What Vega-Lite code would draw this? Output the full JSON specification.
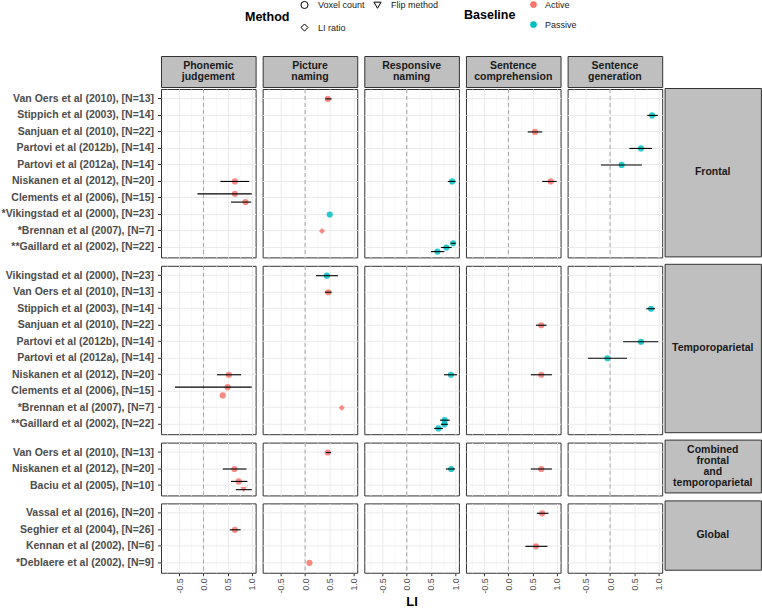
{
"$schema": "https://vega.github.io/schema/vega-lite/v6.json",
"padding": {"left": 0, "top": 0, "right": 0, "bottom": 0},
"config": {"font": "Liberation Sans", "view": {"stroke": "#333333", "strokeWidth": 1}},
"datasets": {"d": [
{"r":"F","t":"PN","s":"Van Oers et al (2010), [N=13]","li":0.47,"lo":0.42,"hi":0.55,"m":"Voxel count","b":"Active","slot":"mid"},
{"r":"F","t":"SG","s":"Stippich et al (2003), [N=14]","li":0.87,"lo":0.77,"hi":0.99,"m":"Voxel count","b":"Passive","slot":"mid"},
{"r":"F","t":"SC","s":"Sanjuan et al (2010), [N=22]","li":0.55,"lo":0.40,"hi":0.70,"m":"Voxel count","b":"Active","slot":"mid"},
{"r":"F","t":"SG","s":"Partovi et al (2012b), [N=14]","li":0.64,"lo":0.40,"hi":0.87,"m":"Voxel count","b":"Passive","slot":"mid"},
{"r":"F","t":"SG","s":"Partovi et al (2012a), [N=14]","li":0.24,"lo":-0.19,"hi":0.66,"m":"Voxel count","b":"Passive","slot":"mid"},
{"r":"F","t":"PJ","s":"Niskanen et al (2012), [N=20]","li":0.65,"lo":0.35,"hi":0.95,"m":"Voxel count","b":"Active","slot":"mid"},
{"r":"F","t":"RN","s":"Niskanen et al (2012), [N=20]","li":0.94,"lo":0.85,"hi":1.01,"m":"Voxel count","b":"Passive","slot":"mid"},
{"r":"F","t":"SC","s":"Niskanen et al (2012), [N=20]","li":0.875,"lo":0.70,"hi":1.0,"m":"Voxel count","b":"Active","slot":"mid"},
{"r":"F","t":"PJ","s":"Clements et al (2006), [N=15]","li":0.65,"lo":-0.125,"hi":1.0,"m":"Voxel count","b":"Active","slot":"up"},
{"r":"F","t":"PJ","s":"Clements et al (2006), [N=15]","li":0.87,"lo":0.57,"hi":0.99,"m":"Voxel count","b":"Active","slot":"down"},
{"r":"F","t":"PN","s":"*Vikingstad et al (2000), [N=23]","li":0.51,"lo":null,"hi":null,"m":"Voxel count","b":"Passive","slot":"mid"},
{"r":"F","t":"PN","s":"*Brennan et al (2007), [N=7]","li":0.35,"lo":null,"hi":null,"m":"LI ratio","b":"Active","slot":"mid"},
{"r":"F","t":"RN","s":"**Gaillard et al (2002), [N=22]","li":0.96,"lo":0.91,"hi":1.01,"m":"Voxel count","b":"Passive","slot":"up"},
{"r":"F","t":"RN","s":"**Gaillard et al (2002), [N=22]","li":0.82,"lo":0.71,"hi":0.93,"m":"Voxel count","b":"Passive","slot":"mid"},
{"r":"F","t":"RN","s":"**Gaillard et al (2002), [N=22]","li":0.635,"lo":0.50,"hi":0.78,"m":"Voxel count","b":"Passive","slot":"down"},
{"r":"T","t":"PN","s":"Vikingstad et al (2000), [N=23]","li":0.45,"lo":0.225,"hi":0.68,"m":"Voxel count","b":"Passive","slot":"mid"},
{"r":"T","t":"PN","s":"Van Oers et al (2010), [N=13]","li":0.48,"lo":0.41,"hi":0.55,"m":"Voxel count","b":"Active","slot":"mid"},
{"r":"T","t":"SG","s":"Stippich et al (2003), [N=14]","li":0.85,"lo":0.75,"hi":0.93,"m":"Voxel count","b":"Passive","slot":"mid"},
{"r":"T","t":"SC","s":"Sanjuan et al (2010), [N=22]","li":0.68,"lo":0.57,"hi":0.79,"m":"Voxel count","b":"Active","slot":"mid"},
{"r":"T","t":"SG","s":"Partovi et al (2012b), [N=14]","li":0.64,"lo":0.27,"hi":1.0,"m":"Voxel count","b":"Passive","slot":"mid"},
{"r":"T","t":"SG","s":"Partovi et al (2012a), [N=14]","li":-0.055,"lo":-0.46,"hi":0.35,"m":"Voxel count","b":"Passive","slot":"mid"},
{"r":"T","t":"PJ","s":"Niskanen et al (2012), [N=20]","li":0.525,"lo":0.28,"hi":0.78,"m":"Voxel count","b":"Active","slot":"mid"},
{"r":"T","t":"RN","s":"Niskanen et al (2012), [N=20]","li":0.915,"lo":0.77,"hi":1.04,"m":"Voxel count","b":"Passive","slot":"mid"},
{"r":"T","t":"SC","s":"Niskanen et al (2012), [N=20]","li":0.68,"lo":0.465,"hi":0.90,"m":"Voxel count","b":"Active","slot":"mid"},
{"r":"T","t":"PJ","s":"Clements et al (2006), [N=15]","li":0.50,"lo":-0.59,"hi":1.0,"m":"Voxel count","b":"Active","slot":"up"},
{"r":"T","t":"PJ","s":"Clements et al (2006), [N=15]","li":0.40,"lo":null,"hi":null,"m":"Voxel count","b":"Active","slot":"down"},
{"r":"T","t":"PN","s":"*Brennan et al (2007), [N=7]","li":0.76,"lo":null,"hi":null,"m":"LI ratio","b":"Active","slot":"mid"},
{"r":"T","t":"RN","s":"**Gaillard et al (2002), [N=22]","li":0.785,"lo":0.69,"hi":0.89,"m":"Voxel count","b":"Passive","slot":"up"},
{"r":"T","t":"RN","s":"**Gaillard et al (2002), [N=22]","li":0.78,"lo":0.71,"hi":0.85,"m":"Voxel count","b":"Passive","slot":"mid"},
{"r":"T","t":"RN","s":"**Gaillard et al (2002), [N=22]","li":0.655,"lo":0.57,"hi":0.75,"m":"Voxel count","b":"Passive","slot":"down"},
{"r":"C","t":"PN","s":"Van Oers et al (2010), [N=13]","li":0.47,"lo":0.43,"hi":0.54,"m":"Voxel count","b":"Active","slot":"mid"},
{"r":"C","t":"PJ","s":"Niskanen et al (2012), [N=20]","li":0.64,"lo":0.40,"hi":0.89,"m":"Voxel count","b":"Active","slot":"mid"},
{"r":"C","t":"RN","s":"Niskanen et al (2012), [N=20]","li":0.92,"lo":0.81,"hi":1.0,"m":"Voxel count","b":"Passive","slot":"mid"},
{"r":"C","t":"SC","s":"Niskanen et al (2012), [N=20]","li":0.68,"lo":0.465,"hi":0.90,"m":"Voxel count","b":"Active","slot":"mid"},
{"r":"C","t":"PJ","s":"Baciu et al (2005), [N=10]","li":0.73,"lo":0.57,"hi":0.91,"m":"Voxel count","b":"Active","slot":"up"},
{"r":"C","t":"PJ","s":"Baciu et al (2005), [N=10]","li":0.83,"lo":0.67,"hi":1.0,"m":"Flip method","b":"Active","slot":"down"},
{"r":"G","t":"SC","s":"Vassal et al (2016), [N=20]","li":0.70,"lo":0.59,"hi":0.83,"m":"Voxel count","b":"Active","slot":"mid"},
{"r":"G","t":"PJ","s":"Seghier et al (2004), [N=26]","li":0.65,"lo":0.545,"hi":0.77,"m":"Voxel count","b":"Active","slot":"mid"},
{"r":"G","t":"SC","s":"Kennan et al (2002), [N=6]","li":0.57,"lo":0.35,"hi":0.81,"m":"Voxel count","b":"Active","slot":"mid"},
{"r":"G","t":"PN","s":"*Deblaere et al (2002), [N=9]","li":0.09,"lo":null,"hi":null,"m":"Voxel count","b":"Active","slot":"mid"}
]},
"spacing": 3.65,
"hconcat": [
{"spacing": 0, "vconcat": [
 {"width": 94.6, "height": 31, "view": {"fill": "#BFBFBF", "stroke": "#333333"}, "data": {"values": [{"label": "Phonemic\njudgement"}]}, "mark": {"type": "text", "lineBreak": "\n", "fontSize": 10.5, "fontWeight": "bold", "color": "#1A1A1A", "lineHeight": 10.5, "dy": -5.25}, "encoding": {"text": {"field": "label"}}},
 {"spacing": 5.8, "vconcat": [
  {"width": 94.6, "height": 168.4, "data": {"name": "d"}, "transform": [{"filter": "datum.r == 'F' && datum.t == 'PJ'"}], "resolve": {"axis": {"x": "independent"}}, "layer": [
   {"data": {"values": [{}]}, "mark": {"type": "rule", "color": "#A6A6A6", "strokeDash": [4, 3], "strokeWidth": 1}, "encoding": {"x": {"datum": 0, "type": "quantitative", "scale": {"domain": [-0.88, 1.08], "nice": false, "zero": false}, "axis": {"orient": "bottom", "values": [-0.75, -0.25, 0.25, 0.75], "labels": false, "ticks": false, "domain": false, "title": null, "grid": true, "gridColor": "#F3F3F3", "gridWidth": 0.7}}}},
   {"mark": {"type": "point", "filled": true, "size": 38, "opacity": 0.85}, "encoding": {
     "x": {"field": "li", "type": "quantitative", "scale": {"domain": [-0.88, 1.08], "nice": false, "zero": false}, "axis": {"orient": "bottom", "values": [-0.5, 0, 0.5, 1], "labels": false, "ticks": false, "domain": false, "title": null, "grid": true, "gridColor": "#EBEBEB"}},
     "y": {"field": "s", "type": "nominal", "scale": {"type": "band", "domain": ["Van Oers et al (2010), [N=13]", "Stippich et al (2003), [N=14]", "Sanjuan et al (2010), [N=22]", "Partovi et al (2012b), [N=14]", "Partovi et al (2012a), [N=14]", "Niskanen et al (2012), [N=20]", "Clements et al (2006), [N=15]", "*Vikingstad et al (2000), [N=23]", "*Brennan et al (2007), [N=7]", "**Gaillard et al (2002), [N=22]"], "paddingInner": 0, "paddingOuter": 0.1}, "axis": {"title": null, "domain": false, "grid": true, "gridColor": "#EBEBEB", "bandPosition": 0.5, "tickSize": 3.5, "tickColor": "#333333", "labelFontSize": 10.5, "labelFontWeight": "bold", "labelColor": "#4D4D4D", "labelPadding": 4, "labelLimit": 300}},
     "yOffset": {"field": "slot", "type": "nominal", "scale": {"domain": ["up", "mid", "down"], "paddingInner": 0, "paddingOuter": 0.5}},
     "color": {"field": "b", "type": "nominal", "scale": {"domain": ["Active", "Passive"], "range": ["#F8766D", "#00BFC4"]}, "legend": {"title": "Baseline", "orient": "none", "legendX": 303, "legendY": -56, "titleOrient": "left", "titleAnchor": "middle", "titleBaseline": "middle", "titleFontSize": 12.5, "titleFontWeight": "bold", "titleColor": "black", "titlePadding": 13, "labelFontSize": 9, "labelColor": "#1A1A1A", "symbolType": "circle", "symbolSize": 45, "symbolOpacity": 1, "rowPadding": 10, "labelOffset": 7}},
     "shape": {"field": "m", "type": "nominal", "scale": {"domain": ["Voxel count", "LI ratio", "Flip method"], "range": ["circle", "diamond", "triangle-down"]}, "legend": {"title": "Method", "orient": "none", "legendX": 84, "legendY": -56, "titleOrient": "left", "titleAnchor": "middle", "titleBaseline": "middle", "titleFontSize": 12.5, "titleFontWeight": "bold", "titleColor": "black", "titlePadding": 10, "labelFontSize": 9, "labelColor": "#1A1A1A", "columns": 2, "columnPadding": 6, "rowPadding": 10, "symbolSize": 50, "symbolOpacity": 1, "symbolFillColor": "transparent", "symbolStrokeColor": "black", "symbolStrokeWidth": 1, "labelOffset": 9}}}},
   {"mark": {"type": "rule", "color": "black", "strokeWidth": 1.1}, "encoding": {"x": {"field": "lo", "type": "quantitative", "scale": {"domain": [-0.88, 1.08], "nice": false, "zero": false}, "axis": null}, "x2": {"field": "hi"}, "y": {"field": "s", "type": "nominal", "scale": {"type": "band", "domain": ["Van Oers et al (2010), [N=13]", "Stippich et al (2003), [N=14]", "Sanjuan et al (2010), [N=22]", "Partovi et al (2012b), [N=14]", "Partovi et al (2012a), [N=14]", "Niskanen et al (2012), [N=20]", "Clements et al (2006), [N=15]", "*Vikingstad et al (2000), [N=23]", "*Brennan et al (2007), [N=7]", "**Gaillard et al (2002), [N=22]"], "paddingInner": 0, "paddingOuter": 0.1}}, "yOffset": {"field": "slot", "type": "nominal", "scale": {"domain": ["up", "mid", "down"], "paddingInner": 0, "paddingOuter": 0.5}}}}
  ]},
  {"width": 94.6, "height": 168.4, "data": {"name": "d"}, "transform": [{"filter": "datum.r == 'T' && datum.t == 'PJ'"}], "resolve": {"axis": {"x": "independent"}}, "layer": [
   {"data": {"values": [{}]}, "mark": {"type": "rule", "color": "#A6A6A6", "strokeDash": [4, 3], "strokeWidth": 1}, "encoding": {"x": {"datum": 0, "type": "quantitative", "scale": {"domain": [-0.88, 1.08], "nice": false, "zero": false}, "axis": {"orient": "bottom", "values": [-0.75, -0.25, 0.25, 0.75], "labels": false, "ticks": false, "domain": false, "title": null, "grid": true, "gridColor": "#F3F3F3", "gridWidth": 0.7}}}},
   {"mark": {"type": "point", "filled": true, "size": 38, "opacity": 0.85}, "encoding": {
     "x": {"field": "li", "type": "quantitative", "scale": {"domain": [-0.88, 1.08], "nice": false, "zero": false}, "axis": {"orient": "bottom", "values": [-0.5, 0, 0.5, 1], "labels": false, "ticks": false, "domain": false, "title": null, "grid": true, "gridColor": "#EBEBEB"}},
     "y": {"field": "s", "type": "nominal", "scale": {"type": "band", "domain": ["Vikingstad et al (2000), [N=23]", "Van Oers et al (2010), [N=13]", "Stippich et al (2003), [N=14]", "Sanjuan et al (2010), [N=22]", "Partovi et al (2012b), [N=14]", "Partovi et al (2012a), [N=14]", "Niskanen et al (2012), [N=20]", "Clements et al (2006), [N=15]", "*Brennan et al (2007), [N=7]", "**Gaillard et al (2002), [N=22]"], "paddingInner": 0, "paddingOuter": 0.1}, "axis": {"title": null, "domain": false, "grid": true, "gridColor": "#EBEBEB", "bandPosition": 0.5, "tickSize": 3.5, "tickColor": "#333333", "labelFontSize": 10.5, "labelFontWeight": "bold", "labelColor": "#4D4D4D", "labelPadding": 4, "labelLimit": 300}},
     "yOffset": {"field": "slot", "type": "nominal", "scale": {"domain": ["up", "mid", "down"], "paddingInner": 0, "paddingOuter": 0.5}},
     "color": {"field": "b", "type": "nominal", "scale": {"domain": ["Active", "Passive"], "range": ["#F8766D", "#00BFC4"]}, "legend": {"symbolOpacity": 1}},
     "shape": {"field": "m", "type": "nominal", "scale": {"domain": ["Voxel count", "LI ratio", "Flip method"], "range": ["circle", "diamond", "triangle-down"]}, "legend": {"symbolOpacity": 1, "symbolFillColor": "transparent", "symbolStrokeColor": "black", "symbolStrokeWidth": 1}}}},
   {"mark": {"type": "rule", "color": "black", "strokeWidth": 1.1}, "encoding": {"x": {"field": "lo", "type": "quantitative", "scale": {"domain": [-0.88, 1.08], "nice": false, "zero": false}, "axis": null}, "x2": {"field": "hi"}, "y": {"field": "s", "type": "nominal", "scale": {"type": "band", "domain": ["Vikingstad et al (2000), [N=23]", "Van Oers et al (2010), [N=13]", "Stippich et al (2003), [N=14]", "Sanjuan et al (2010), [N=22]", "Partovi et al (2012b), [N=14]", "Partovi et al (2012a), [N=14]", "Niskanen et al (2012), [N=20]", "Clements et al (2006), [N=15]", "*Brennan et al (2007), [N=7]", "**Gaillard et al (2002), [N=22]"], "paddingInner": 0, "paddingOuter": 0.1}}, "yOffset": {"field": "slot", "type": "nominal", "scale": {"domain": ["up", "mid", "down"], "paddingInner": 0, "paddingOuter": 0.5}}}}
  ]},
  {"width": 94.6, "height": 52.83, "data": {"name": "d"}, "transform": [{"filter": "datum.r == 'C' && datum.t == 'PJ'"}], "resolve": {"axis": {"x": "independent"}}, "layer": [
   {"data": {"values": [{}]}, "mark": {"type": "rule", "color": "#A6A6A6", "strokeDash": [4, 3], "strokeWidth": 1}, "encoding": {"x": {"datum": 0, "type": "quantitative", "scale": {"domain": [-0.88, 1.08], "nice": false, "zero": false}, "axis": {"orient": "bottom", "values": [-0.75, -0.25, 0.25, 0.75], "labels": false, "ticks": false, "domain": false, "title": null, "grid": true, "gridColor": "#F3F3F3", "gridWidth": 0.7}}}},
   {"mark": {"type": "point", "filled": true, "size": 38, "opacity": 0.85}, "encoding": {
     "x": {"field": "li", "type": "quantitative", "scale": {"domain": [-0.88, 1.08], "nice": false, "zero": false}, "axis": {"orient": "bottom", "values": [-0.5, 0, 0.5, 1], "labels": false, "ticks": false, "domain": false, "title": null, "grid": true, "gridColor": "#EBEBEB"}},
     "y": {"field": "s", "type": "nominal", "scale": {"type": "band", "domain": ["Van Oers et al (2010), [N=13]", "Niskanen et al (2012), [N=20]", "Baciu et al (2005), [N=10]"], "paddingInner": 0, "paddingOuter": 0.1}, "axis": {"title": null, "domain": false, "grid": true, "gridColor": "#EBEBEB", "bandPosition": 0.5, "tickSize": 3.5, "tickColor": "#333333", "labelFontSize": 10.5, "labelFontWeight": "bold", "labelColor": "#4D4D4D", "labelPadding": 4, "labelLimit": 300}},
     "yOffset": {"field": "slot", "type": "nominal", "scale": {"domain": ["up", "mid", "down"], "paddingInner": 0, "paddingOuter": 0.5}},
     "color": {"field": "b", "type": "nominal", "scale": {"domain": ["Active", "Passive"], "range": ["#F8766D", "#00BFC4"]}, "legend": {"symbolOpacity": 1}},
     "shape": {"field": "m", "type": "nominal", "scale": {"domain": ["Voxel count", "LI ratio", "Flip method"], "range": ["circle", "diamond", "triangle-down"]}, "legend": {"symbolOpacity": 1, "symbolFillColor": "transparent", "symbolStrokeColor": "black", "symbolStrokeWidth": 1}}}},
   {"mark": {"type": "rule", "color": "black", "strokeWidth": 1.1}, "encoding": {"x": {"field": "lo", "type": "quantitative", "scale": {"domain": [-0.88, 1.08], "nice": false, "zero": false}, "axis": null}, "x2": {"field": "hi"}, "y": {"field": "s", "type": "nominal", "scale": {"type": "band", "domain": ["Van Oers et al (2010), [N=13]", "Niskanen et al (2012), [N=20]", "Baciu et al (2005), [N=10]"], "paddingInner": 0, "paddingOuter": 0.1}}, "yOffset": {"field": "slot", "type": "nominal", "scale": {"domain": ["up", "mid", "down"], "paddingInner": 0, "paddingOuter": 0.5}}}}
  ]},
  {"width": 94.6, "height": 69.34, "data": {"name": "d"}, "transform": [{"filter": "datum.r == 'G' && datum.t == 'PJ'"}], "resolve": {"axis": {"x": "independent"}}, "layer": [
   {"data": {"values": [{}]}, "mark": {"type": "rule", "color": "#A6A6A6", "strokeDash": [4, 3], "strokeWidth": 1}, "encoding": {"x": {"datum": 0, "type": "quantitative", "scale": {"domain": [-0.88, 1.08], "nice": false, "zero": false}, "axis": {"orient": "bottom", "values": [-0.75, -0.25, 0.25, 0.75], "labels": false, "ticks": false, "domain": false, "title": null, "grid": true, "gridColor": "#F3F3F3", "gridWidth": 0.7}}}},
   {"mark": {"type": "point", "filled": true, "size": 38, "opacity": 0.85}, "encoding": {
     "x": {"field": "li", "type": "quantitative", "scale": {"domain": [-0.88, 1.08], "nice": false, "zero": false}, "axis": {"orient": "bottom", "values": [-0.5, 0, 0.5, 1], "domain": false, "title": null, "grid": true, "gridColor": "#EBEBEB", "labelExpr": "datum.value < 0 ? '-0.5' : format(datum.value, '.1f')", "labelAngle": -90, "labelFontSize": 8.8, "labelColor": "#4D4D4D", "labelFlush": false, "labelOverlap": false, "labelPadding": 2, "tickSize": 3, "tickColor": "#333333"}},
     "y": {"field": "s", "type": "nominal", "scale": {"type": "band", "domain": ["Vassal et al (2016), [N=20]", "Seghier et al (2004), [N=26]", "Kennan et al (2002), [N=6]", "*Deblaere et al (2002), [N=9]"], "paddingInner": 0, "paddingOuter": 0.1}, "axis": {"title": null, "domain": false, "grid": true, "gridColor": "#EBEBEB", "bandPosition": 0.5, "tickSize": 3.5, "tickColor": "#333333", "labelFontSize": 10.5, "labelFontWeight": "bold", "labelColor": "#4D4D4D", "labelPadding": 4, "labelLimit": 300}},
     "yOffset": {"field": "slot", "type": "nominal", "scale": {"domain": ["up", "mid", "down"], "paddingInner": 0, "paddingOuter": 0.5}},
     "color": {"field": "b", "type": "nominal", "scale": {"domain": ["Active", "Passive"], "range": ["#F8766D", "#00BFC4"]}, "legend": {"symbolOpacity": 1}},
     "shape": {"field": "m", "type": "nominal", "scale": {"domain": ["Voxel count", "LI ratio", "Flip method"], "range": ["circle", "diamond", "triangle-down"]}, "legend": {"symbolOpacity": 1, "symbolFillColor": "transparent", "symbolStrokeColor": "black", "symbolStrokeWidth": 1}}}},
   {"mark": {"type": "rule", "color": "black", "strokeWidth": 1.1}, "encoding": {"x": {"field": "lo", "type": "quantitative", "scale": {"domain": [-0.88, 1.08], "nice": false, "zero": false}, "axis": null}, "x2": {"field": "hi"}, "y": {"field": "s", "type": "nominal", "scale": {"type": "band", "domain": ["Vassal et al (2016), [N=20]", "Seghier et al (2004), [N=26]", "Kennan et al (2002), [N=6]", "*Deblaere et al (2002), [N=9]"], "paddingInner": 0, "paddingOuter": 0.1}}, "yOffset": {"field": "slot", "type": "nominal", "scale": {"domain": ["up", "mid", "down"], "paddingInner": 0, "paddingOuter": 0.5}}}}
  ]}
 ]}
]},
{"spacing": 0, "vconcat": [
 {"width": 94.6, "height": 31, "view": {"fill": "#BFBFBF", "stroke": "#333333"}, "data": {"values": [{"label": "Picture\nnaming"}]}, "mark": {"type": "text", "lineBreak": "\n", "fontSize": 10.5, "fontWeight": "bold", "color": "#1A1A1A", "lineHeight": 10.5, "dy": -5.25}, "encoding": {"text": {"field": "label"}}},
 {"spacing": 5.8, "vconcat": [
  {"width": 94.6, "height": 168.4, "data": {"name": "d"}, "transform": [{"filter": "datum.r == 'F' && datum.t == 'PN'"}], "resolve": {"axis": {"x": "independent"}}, "layer": [
   {"data": {"values": [{}]}, "mark": {"type": "rule", "color": "#A6A6A6", "strokeDash": [4, 3], "strokeWidth": 1}, "encoding": {"x": {"datum": 0, "type": "quantitative", "scale": {"domain": [-0.88, 1.08], "nice": false, "zero": false}, "axis": {"orient": "bottom", "values": [-0.75, -0.25, 0.25, 0.75], "labels": false, "ticks": false, "domain": false, "title": null, "grid": true, "gridColor": "#F3F3F3", "gridWidth": 0.7}}}},
   {"mark": {"type": "point", "filled": true, "size": 38, "opacity": 0.85}, "encoding": {
     "x": {"field": "li", "type": "quantitative", "scale": {"domain": [-0.88, 1.08], "nice": false, "zero": false}, "axis": {"orient": "bottom", "values": [-0.5, 0, 0.5, 1], "labels": false, "ticks": false, "domain": false, "title": null, "grid": true, "gridColor": "#EBEBEB"}},
     "y": {"field": "s", "type": "nominal", "scale": {"type": "band", "domain": ["Van Oers et al (2010), [N=13]", "Stippich et al (2003), [N=14]", "Sanjuan et al (2010), [N=22]", "Partovi et al (2012b), [N=14]", "Partovi et al (2012a), [N=14]", "Niskanen et al (2012), [N=20]", "Clements et al (2006), [N=15]", "*Vikingstad et al (2000), [N=23]", "*Brennan et al (2007), [N=7]", "**Gaillard et al (2002), [N=22]"], "paddingInner": 0, "paddingOuter": 0.1}, "axis": {"title": null, "domain": false, "grid": true, "gridColor": "#EBEBEB", "bandPosition": 0.5, "labels": false, "ticks": false}},
     "yOffset": {"field": "slot", "type": "nominal", "scale": {"domain": ["up", "mid", "down"], "paddingInner": 0, "paddingOuter": 0.5}},
     "color": {"field": "b", "type": "nominal", "scale": {"domain": ["Active", "Passive"], "range": ["#F8766D", "#00BFC4"]}, "legend": {"symbolOpacity": 1}},
     "shape": {"field": "m", "type": "nominal", "scale": {"domain": ["Voxel count", "LI ratio", "Flip method"], "range": ["circle", "diamond", "triangle-down"]}, "legend": {"symbolOpacity": 1, "symbolFillColor": "transparent", "symbolStrokeColor": "black", "symbolStrokeWidth": 1}}}},
   {"mark": {"type": "rule", "color": "black", "strokeWidth": 1.1}, "encoding": {"x": {"field": "lo", "type": "quantitative", "scale": {"domain": [-0.88, 1.08], "nice": false, "zero": false}, "axis": null}, "x2": {"field": "hi"}, "y": {"field": "s", "type": "nominal", "scale": {"type": "band", "domain": ["Van Oers et al (2010), [N=13]", "Stippich et al (2003), [N=14]", "Sanjuan et al (2010), [N=22]", "Partovi et al (2012b), [N=14]", "Partovi et al (2012a), [N=14]", "Niskanen et al (2012), [N=20]", "Clements et al (2006), [N=15]", "*Vikingstad et al (2000), [N=23]", "*Brennan et al (2007), [N=7]", "**Gaillard et al (2002), [N=22]"], "paddingInner": 0, "paddingOuter": 0.1}}, "yOffset": {"field": "slot", "type": "nominal", "scale": {"domain": ["up", "mid", "down"], "paddingInner": 0, "paddingOuter": 0.5}}}}
  ]},
  {"width": 94.6, "height": 168.4, "data": {"name": "d"}, "transform": [{"filter": "datum.r == 'T' && datum.t == 'PN'"}], "resolve": {"axis": {"x": "independent"}}, "layer": [
   {"data": {"values": [{}]}, "mark": {"type": "rule", "color": "#A6A6A6", "strokeDash": [4, 3], "strokeWidth": 1}, "encoding": {"x": {"datum": 0, "type": "quantitative", "scale": {"domain": [-0.88, 1.08], "nice": false, "zero": false}, "axis": {"orient": "bottom", "values": [-0.75, -0.25, 0.25, 0.75], "labels": false, "ticks": false, "domain": false, "title": null, "grid": true, "gridColor": "#F3F3F3", "gridWidth": 0.7}}}},
   {"mark": {"type": "point", "filled": true, "size": 38, "opacity": 0.85}, "encoding": {
     "x": {"field": "li", "type": "quantitative", "scale": {"domain": [-0.88, 1.08], "nice": false, "zero": false}, "axis": {"orient": "bottom", "values": [-0.5, 0, 0.5, 1], "labels": false, "ticks": false, "domain": false, "title": null, "grid": true, "gridColor": "#EBEBEB"}},
     "y": {"field": "s", "type": "nominal", "scale": {"type": "band", "domain": ["Vikingstad et al (2000), [N=23]", "Van Oers et al (2010), [N=13]", "Stippich et al (2003), [N=14]", "Sanjuan et al (2010), [N=22]", "Partovi et al (2012b), [N=14]", "Partovi et al (2012a), [N=14]", "Niskanen et al (2012), [N=20]", "Clements et al (2006), [N=15]", "*Brennan et al (2007), [N=7]", "**Gaillard et al (2002), [N=22]"], "paddingInner": 0, "paddingOuter": 0.1}, "axis": {"title": null, "domain": false, "grid": true, "gridColor": "#EBEBEB", "bandPosition": 0.5, "labels": false, "ticks": false}},
     "yOffset": {"field": "slot", "type": "nominal", "scale": {"domain": ["up", "mid", "down"], "paddingInner": 0, "paddingOuter": 0.5}},
     "color": {"field": "b", "type": "nominal", "scale": {"domain": ["Active", "Passive"], "range": ["#F8766D", "#00BFC4"]}, "legend": {"symbolOpacity": 1}},
     "shape": {"field": "m", "type": "nominal", "scale": {"domain": ["Voxel count", "LI ratio", "Flip method"], "range": ["circle", "diamond", "triangle-down"]}, "legend": {"symbolOpacity": 1, "symbolFillColor": "transparent", "symbolStrokeColor": "black", "symbolStrokeWidth": 1}}}},
   {"mark": {"type": "rule", "color": "black", "strokeWidth": 1.1}, "encoding": {"x": {"field": "lo", "type": "quantitative", "scale": {"domain": [-0.88, 1.08], "nice": false, "zero": false}, "axis": null}, "x2": {"field": "hi"}, "y": {"field": "s", "type": "nominal", "scale": {"type": "band", "domain": ["Vikingstad et al (2000), [N=23]", "Van Oers et al (2010), [N=13]", "Stippich et al (2003), [N=14]", "Sanjuan et al (2010), [N=22]", "Partovi et al (2012b), [N=14]", "Partovi et al (2012a), [N=14]", "Niskanen et al (2012), [N=20]", "Clements et al (2006), [N=15]", "*Brennan et al (2007), [N=7]", "**Gaillard et al (2002), [N=22]"], "paddingInner": 0, "paddingOuter": 0.1}}, "yOffset": {"field": "slot", "type": "nominal", "scale": {"domain": ["up", "mid", "down"], "paddingInner": 0, "paddingOuter": 0.5}}}}
  ]},
  {"width": 94.6, "height": 52.83, "data": {"name": "d"}, "transform": [{"filter": "datum.r == 'C' && datum.t == 'PN'"}], "resolve": {"axis": {"x": "independent"}}, "layer": [
   {"data": {"values": [{}]}, "mark": {"type": "rule", "color": "#A6A6A6", "strokeDash": [4, 3], "strokeWidth": 1}, "encoding": {"x": {"datum": 0, "type": "quantitative", "scale": {"domain": [-0.88, 1.08], "nice": false, "zero": false}, "axis": {"orient": "bottom", "values": [-0.75, -0.25, 0.25, 0.75], "labels": false, "ticks": false, "domain": false, "title": null, "grid": true, "gridColor": "#F3F3F3", "gridWidth": 0.7}}}},
   {"mark": {"type": "point", "filled": true, "size": 38, "opacity": 0.85}, "encoding": {
     "x": {"field": "li", "type": "quantitative", "scale": {"domain": [-0.88, 1.08], "nice": false, "zero": false}, "axis": {"orient": "bottom", "values": [-0.5, 0, 0.5, 1], "labels": false, "ticks": false, "domain": false, "title": null, "grid": true, "gridColor": "#EBEBEB"}},
     "y": {"field": "s", "type": "nominal", "scale": {"type": "band", "domain": ["Van Oers et al (2010), [N=13]", "Niskanen et al (2012), [N=20]", "Baciu et al (2005), [N=10]"], "paddingInner": 0, "paddingOuter": 0.1}, "axis": {"title": null, "domain": false, "grid": true, "gridColor": "#EBEBEB", "bandPosition": 0.5, "labels": false, "ticks": false}},
     "yOffset": {"field": "slot", "type": "nominal", "scale": {"domain": ["up", "mid", "down"], "paddingInner": 0, "paddingOuter": 0.5}},
     "color": {"field": "b", "type": "nominal", "scale": {"domain": ["Active", "Passive"], "range": ["#F8766D", "#00BFC4"]}, "legend": {"symbolOpacity": 1}},
     "shape": {"field": "m", "type": "nominal", "scale": {"domain": ["Voxel count", "LI ratio", "Flip method"], "range": ["circle", "diamond", "triangle-down"]}, "legend": {"symbolOpacity": 1, "symbolFillColor": "transparent", "symbolStrokeColor": "black", "symbolStrokeWidth": 1}}}},
   {"mark": {"type": "rule", "color": "black", "strokeWidth": 1.1}, "encoding": {"x": {"field": "lo", "type": "quantitative", "scale": {"domain": [-0.88, 1.08], "nice": false, "zero": false}, "axis": null}, "x2": {"field": "hi"}, "y": {"field": "s", "type": "nominal", "scale": {"type": "band", "domain": ["Van Oers et al (2010), [N=13]", "Niskanen et al (2012), [N=20]", "Baciu et al (2005), [N=10]"], "paddingInner": 0, "paddingOuter": 0.1}}, "yOffset": {"field": "slot", "type": "nominal", "scale": {"domain": ["up", "mid", "down"], "paddingInner": 0, "paddingOuter": 0.5}}}}
  ]},
  {"width": 94.6, "height": 69.34, "data": {"name": "d"}, "transform": [{"filter": "datum.r == 'G' && datum.t == 'PN'"}], "resolve": {"axis": {"x": "independent"}}, "layer": [
   {"data": {"values": [{}]}, "mark": {"type": "rule", "color": "#A6A6A6", "strokeDash": [4, 3], "strokeWidth": 1}, "encoding": {"x": {"datum": 0, "type": "quantitative", "scale": {"domain": [-0.88, 1.08], "nice": false, "zero": false}, "axis": {"orient": "bottom", "values": [-0.75, -0.25, 0.25, 0.75], "labels": false, "ticks": false, "domain": false, "title": null, "grid": true, "gridColor": "#F3F3F3", "gridWidth": 0.7}}}},
   {"mark": {"type": "point", "filled": true, "size": 38, "opacity": 0.85}, "encoding": {
     "x": {"field": "li", "type": "quantitative", "scale": {"domain": [-0.88, 1.08], "nice": false, "zero": false}, "axis": {"orient": "bottom", "values": [-0.5, 0, 0.5, 1], "domain": false, "title": null, "grid": true, "gridColor": "#EBEBEB", "labelExpr": "datum.value < 0 ? '-0.5' : format(datum.value, '.1f')", "labelAngle": -90, "labelFontSize": 8.8, "labelColor": "#4D4D4D", "labelFlush": false, "labelOverlap": false, "labelPadding": 2, "tickSize": 3, "tickColor": "#333333"}},
     "y": {"field": "s", "type": "nominal", "scale": {"type": "band", "domain": ["Vassal et al (2016), [N=20]", "Seghier et al (2004), [N=26]", "Kennan et al (2002), [N=6]", "*Deblaere et al (2002), [N=9]"], "paddingInner": 0, "paddingOuter": 0.1}, "axis": {"title": null, "domain": false, "grid": true, "gridColor": "#EBEBEB", "bandPosition": 0.5, "labels": false, "ticks": false}},
     "yOffset": {"field": "slot", "type": "nominal", "scale": {"domain": ["up", "mid", "down"], "paddingInner": 0, "paddingOuter": 0.5}},
     "color": {"field": "b", "type": "nominal", "scale": {"domain": ["Active", "Passive"], "range": ["#F8766D", "#00BFC4"]}, "legend": {"symbolOpacity": 1}},
     "shape": {"field": "m", "type": "nominal", "scale": {"domain": ["Voxel count", "LI ratio", "Flip method"], "range": ["circle", "diamond", "triangle-down"]}, "legend": {"symbolOpacity": 1, "symbolFillColor": "transparent", "symbolStrokeColor": "black", "symbolStrokeWidth": 1}}}},
   {"mark": {"type": "rule", "color": "black", "strokeWidth": 1.1}, "encoding": {"x": {"field": "lo", "type": "quantitative", "scale": {"domain": [-0.88, 1.08], "nice": false, "zero": false}, "axis": null}, "x2": {"field": "hi"}, "y": {"field": "s", "type": "nominal", "scale": {"type": "band", "domain": ["Vassal et al (2016), [N=20]", "Seghier et al (2004), [N=26]", "Kennan et al (2002), [N=6]", "*Deblaere et al (2002), [N=9]"], "paddingInner": 0, "paddingOuter": 0.1}}, "yOffset": {"field": "slot", "type": "nominal", "scale": {"domain": ["up", "mid", "down"], "paddingInner": 0, "paddingOuter": 0.5}}}}
  ]}
 ]}
]},
{"spacing": 0, "vconcat": [
 {"width": 94.6, "height": 31, "view": {"fill": "#BFBFBF", "stroke": "#333333"}, "data": {"values": [{"label": "Responsive\nnaming"}]}, "mark": {"type": "text", "lineBreak": "\n", "fontSize": 10.5, "fontWeight": "bold", "color": "#1A1A1A", "lineHeight": 10.5, "dy": -5.25}, "encoding": {"text": {"field": "label"}}},
 {"spacing": 5.8, "vconcat": [
  {"width": 94.6, "height": 168.4, "data": {"name": "d"}, "transform": [{"filter": "datum.r == 'F' && datum.t == 'RN'"}], "resolve": {"axis": {"x": "independent"}}, "layer": [
   {"data": {"values": [{}]}, "mark": {"type": "rule", "color": "#A6A6A6", "strokeDash": [4, 3], "strokeWidth": 1}, "encoding": {"x": {"datum": 0, "type": "quantitative", "scale": {"domain": [-0.88, 1.08], "nice": false, "zero": false}, "axis": {"orient": "bottom", "values": [-0.75, -0.25, 0.25, 0.75], "labels": false, "ticks": false, "domain": false, "title": null, "grid": true, "gridColor": "#F3F3F3", "gridWidth": 0.7}}}},
   {"mark": {"type": "point", "filled": true, "size": 38, "opacity": 0.85}, "encoding": {
     "x": {"field": "li", "type": "quantitative", "scale": {"domain": [-0.88, 1.08], "nice": false, "zero": false}, "axis": {"orient": "bottom", "values": [-0.5, 0, 0.5, 1], "labels": false, "ticks": false, "domain": false, "title": null, "grid": true, "gridColor": "#EBEBEB"}},
     "y": {"field": "s", "type": "nominal", "scale": {"type": "band", "domain": ["Van Oers et al (2010), [N=13]", "Stippich et al (2003), [N=14]", "Sanjuan et al (2010), [N=22]", "Partovi et al (2012b), [N=14]", "Partovi et al (2012a), [N=14]", "Niskanen et al (2012), [N=20]", "Clements et al (2006), [N=15]", "*Vikingstad et al (2000), [N=23]", "*Brennan et al (2007), [N=7]", "**Gaillard et al (2002), [N=22]"], "paddingInner": 0, "paddingOuter": 0.1}, "axis": {"title": null, "domain": false, "grid": true, "gridColor": "#EBEBEB", "bandPosition": 0.5, "labels": false, "ticks": false}},
     "yOffset": {"field": "slot", "type": "nominal", "scale": {"domain": ["up", "mid", "down"], "paddingInner": 0, "paddingOuter": 0}},
     "color": {"field": "b", "type": "nominal", "scale": {"domain": ["Active", "Passive"], "range": ["#F8766D", "#00BFC4"]}, "legend": {"symbolOpacity": 1}},
     "shape": {"field": "m", "type": "nominal", "scale": {"domain": ["Voxel count", "LI ratio", "Flip method"], "range": ["circle", "diamond", "triangle-down"]}, "legend": {"symbolOpacity": 1, "symbolFillColor": "transparent", "symbolStrokeColor": "black", "symbolStrokeWidth": 1}}}},
   {"mark": {"type": "rule", "color": "black", "strokeWidth": 1.1}, "encoding": {"x": {"field": "lo", "type": "quantitative", "scale": {"domain": [-0.88, 1.08], "nice": false, "zero": false}, "axis": null}, "x2": {"field": "hi"}, "y": {"field": "s", "type": "nominal", "scale": {"type": "band", "domain": ["Van Oers et al (2010), [N=13]", "Stippich et al (2003), [N=14]", "Sanjuan et al (2010), [N=22]", "Partovi et al (2012b), [N=14]", "Partovi et al (2012a), [N=14]", "Niskanen et al (2012), [N=20]", "Clements et al (2006), [N=15]", "*Vikingstad et al (2000), [N=23]", "*Brennan et al (2007), [N=7]", "**Gaillard et al (2002), [N=22]"], "paddingInner": 0, "paddingOuter": 0.1}}, "yOffset": {"field": "slot", "type": "nominal", "scale": {"domain": ["up", "mid", "down"], "paddingInner": 0, "paddingOuter": 0}}}}
  ]},
  {"width": 94.6, "height": 168.4, "data": {"name": "d"}, "transform": [{"filter": "datum.r == 'T' && datum.t == 'RN'"}], "resolve": {"axis": {"x": "independent"}}, "layer": [
   {"data": {"values": [{}]}, "mark": {"type": "rule", "color": "#A6A6A6", "strokeDash": [4, 3], "strokeWidth": 1}, "encoding": {"x": {"datum": 0, "type": "quantitative", "scale": {"domain": [-0.88, 1.08], "nice": false, "zero": false}, "axis": {"orient": "bottom", "values": [-0.75, -0.25, 0.25, 0.75], "labels": false, "ticks": false, "domain": false, "title": null, "grid": true, "gridColor": "#F3F3F3", "gridWidth": 0.7}}}},
   {"mark": {"type": "point", "filled": true, "size": 38, "opacity": 0.85}, "encoding": {
     "x": {"field": "li", "type": "quantitative", "scale": {"domain": [-0.88, 1.08], "nice": false, "zero": false}, "axis": {"orient": "bottom", "values": [-0.5, 0, 0.5, 1], "labels": false, "ticks": false, "domain": false, "title": null, "grid": true, "gridColor": "#EBEBEB"}},
     "y": {"field": "s", "type": "nominal", "scale": {"type": "band", "domain": ["Vikingstad et al (2000), [N=23]", "Van Oers et al (2010), [N=13]", "Stippich et al (2003), [N=14]", "Sanjuan et al (2010), [N=22]", "Partovi et al (2012b), [N=14]", "Partovi et al (2012a), [N=14]", "Niskanen et al (2012), [N=20]", "Clements et al (2006), [N=15]", "*Brennan et al (2007), [N=7]", "**Gaillard et al (2002), [N=22]"], "paddingInner": 0, "paddingOuter": 0.1}, "axis": {"title": null, "domain": false, "grid": true, "gridColor": "#EBEBEB", "bandPosition": 0.5, "labels": false, "ticks": false}},
     "yOffset": {"field": "slot", "type": "nominal", "scale": {"domain": ["up", "mid", "down"], "paddingInner": 0, "paddingOuter": 0}},
     "color": {"field": "b", "type": "nominal", "scale": {"domain": ["Active", "Passive"], "range": ["#F8766D", "#00BFC4"]}, "legend": {"symbolOpacity": 1}},
     "shape": {"field": "m", "type": "nominal", "scale": {"domain": ["Voxel count", "LI ratio", "Flip method"], "range": ["circle", "diamond", "triangle-down"]}, "legend": {"symbolOpacity": 1, "symbolFillColor": "transparent", "symbolStrokeColor": "black", "symbolStrokeWidth": 1}}}},
   {"mark": {"type": "rule", "color": "black", "strokeWidth": 1.1}, "encoding": {"x": {"field": "lo", "type": "quantitative", "scale": {"domain": [-0.88, 1.08], "nice": false, "zero": false}, "axis": null}, "x2": {"field": "hi"}, "y": {"field": "s", "type": "nominal", "scale": {"type": "band", "domain": ["Vikingstad et al (2000), [N=23]", "Van Oers et al (2010), [N=13]", "Stippich et al (2003), [N=14]", "Sanjuan et al (2010), [N=22]", "Partovi et al (2012b), [N=14]", "Partovi et al (2012a), [N=14]", "Niskanen et al (2012), [N=20]", "Clements et al (2006), [N=15]", "*Brennan et al (2007), [N=7]", "**Gaillard et al (2002), [N=22]"], "paddingInner": 0, "paddingOuter": 0.1}}, "yOffset": {"field": "slot", "type": "nominal", "scale": {"domain": ["up", "mid", "down"], "paddingInner": 0, "paddingOuter": 0}}}}
  ]},
  {"width": 94.6, "height": 52.83, "data": {"name": "d"}, "transform": [{"filter": "datum.r == 'C' && datum.t == 'RN'"}], "resolve": {"axis": {"x": "independent"}}, "layer": [
   {"data": {"values": [{}]}, "mark": {"type": "rule", "color": "#A6A6A6", "strokeDash": [4, 3], "strokeWidth": 1}, "encoding": {"x": {"datum": 0, "type": "quantitative", "scale": {"domain": [-0.88, 1.08], "nice": false, "zero": false}, "axis": {"orient": "bottom", "values": [-0.75, -0.25, 0.25, 0.75], "labels": false, "ticks": false, "domain": false, "title": null, "grid": true, "gridColor": "#F3F3F3", "gridWidth": 0.7}}}},
   {"mark": {"type": "point", "filled": true, "size": 38, "opacity": 0.85}, "encoding": {
     "x": {"field": "li", "type": "quantitative", "scale": {"domain": [-0.88, 1.08], "nice": false, "zero": false}, "axis": {"orient": "bottom", "values": [-0.5, 0, 0.5, 1], "labels": false, "ticks": false, "domain": false, "title": null, "grid": true, "gridColor": "#EBEBEB"}},
     "y": {"field": "s", "type": "nominal", "scale": {"type": "band", "domain": ["Van Oers et al (2010), [N=13]", "Niskanen et al (2012), [N=20]", "Baciu et al (2005), [N=10]"], "paddingInner": 0, "paddingOuter": 0.1}, "axis": {"title": null, "domain": false, "grid": true, "gridColor": "#EBEBEB", "bandPosition": 0.5, "labels": false, "ticks": false}},
     "yOffset": {"field": "slot", "type": "nominal", "scale": {"domain": ["up", "mid", "down"], "paddingInner": 0, "paddingOuter": 0}},
     "color": {"field": "b", "type": "nominal", "scale": {"domain": ["Active", "Passive"], "range": ["#F8766D", "#00BFC4"]}, "legend": {"symbolOpacity": 1}},
     "shape": {"field": "m", "type": "nominal", "scale": {"domain": ["Voxel count", "LI ratio", "Flip method"], "range": ["circle", "diamond", "triangle-down"]}, "legend": {"symbolOpacity": 1, "symbolFillColor": "transparent", "symbolStrokeColor": "black", "symbolStrokeWidth": 1}}}},
   {"mark": {"type": "rule", "color": "black", "strokeWidth": 1.1}, "encoding": {"x": {"field": "lo", "type": "quantitative", "scale": {"domain": [-0.88, 1.08], "nice": false, "zero": false}, "axis": null}, "x2": {"field": "hi"}, "y": {"field": "s", "type": "nominal", "scale": {"type": "band", "domain": ["Van Oers et al (2010), [N=13]", "Niskanen et al (2012), [N=20]", "Baciu et al (2005), [N=10]"], "paddingInner": 0, "paddingOuter": 0.1}}, "yOffset": {"field": "slot", "type": "nominal", "scale": {"domain": ["up", "mid", "down"], "paddingInner": 0, "paddingOuter": 0}}}}
  ]},
  {"width": 94.6, "height": 69.34, "data": {"name": "d"}, "transform": [{"filter": "datum.r == 'G' && datum.t == 'RN'"}], "resolve": {"axis": {"x": "independent"}}, "layer": [
   {"data": {"values": [{}]}, "mark": {"type": "rule", "color": "#A6A6A6", "strokeDash": [4, 3], "strokeWidth": 1}, "encoding": {"x": {"datum": 0, "type": "quantitative", "scale": {"domain": [-0.88, 1.08], "nice": false, "zero": false}, "axis": {"orient": "bottom", "values": [-0.75, -0.25, 0.25, 0.75], "labels": false, "ticks": false, "domain": false, "title": null, "grid": true, "gridColor": "#F3F3F3", "gridWidth": 0.7}}}},
   {"mark": {"type": "point", "filled": true, "size": 38, "opacity": 0.85}, "encoding": {
     "x": {"field": "li", "type": "quantitative", "scale": {"domain": [-0.88, 1.08], "nice": false, "zero": false}, "axis": {"orient": "bottom", "values": [-0.5, 0, 0.5, 1], "domain": false, "title": "LI", "titleFontSize": 13, "titleFontWeight": "bold", "titleColor": "black", "titlePadding": 3, "grid": true, "gridColor": "#EBEBEB", "labelExpr": "datum.value < 0 ? '-0.5' : format(datum.value, '.1f')", "labelAngle": -90, "labelFontSize": 8.8, "labelColor": "#4D4D4D", "labelFlush": false, "labelOverlap": false, "labelPadding": 2, "tickSize": 3, "tickColor": "#333333"}},
     "y": {"field": "s", "type": "nominal", "scale": {"type": "band", "domain": ["Vassal et al (2016), [N=20]", "Seghier et al (2004), [N=26]", "Kennan et al (2002), [N=6]", "*Deblaere et al (2002), [N=9]"], "paddingInner": 0, "paddingOuter": 0.1}, "axis": {"title": null, "domain": false, "grid": true, "gridColor": "#EBEBEB", "bandPosition": 0.5, "labels": false, "ticks": false}},
     "yOffset": {"field": "slot", "type": "nominal", "scale": {"domain": ["up", "mid", "down"], "paddingInner": 0, "paddingOuter": 0}},
     "color": {"field": "b", "type": "nominal", "scale": {"domain": ["Active", "Passive"], "range": ["#F8766D", "#00BFC4"]}, "legend": {"symbolOpacity": 1}},
     "shape": {"field": "m", "type": "nominal", "scale": {"domain": ["Voxel count", "LI ratio", "Flip method"], "range": ["circle", "diamond", "triangle-down"]}, "legend": {"symbolOpacity": 1, "symbolFillColor": "transparent", "symbolStrokeColor": "black", "symbolStrokeWidth": 1}}}},
   {"mark": {"type": "rule", "color": "black", "strokeWidth": 1.1}, "encoding": {"x": {"field": "lo", "type": "quantitative", "scale": {"domain": [-0.88, 1.08], "nice": false, "zero": false}, "axis": null}, "x2": {"field": "hi"}, "y": {"field": "s", "type": "nominal", "scale": {"type": "band", "domain": ["Vassal et al (2016), [N=20]", "Seghier et al (2004), [N=26]", "Kennan et al (2002), [N=6]", "*Deblaere et al (2002), [N=9]"], "paddingInner": 0, "paddingOuter": 0.1}}, "yOffset": {"field": "slot", "type": "nominal", "scale": {"domain": ["up", "mid", "down"], "paddingInner": 0, "paddingOuter": 0}}}}
  ]}
 ]}
]},
{"spacing": 0, "vconcat": [
 {"width": 94.6, "height": 31, "view": {"fill": "#BFBFBF", "stroke": "#333333"}, "data": {"values": [{"label": "Sentence\ncomprehension"}]}, "mark": {"type": "text", "lineBreak": "\n", "fontSize": 10.5, "fontWeight": "bold", "color": "#1A1A1A", "lineHeight": 10.5, "dy": -5.25}, "encoding": {"text": {"field": "label"}}},
 {"spacing": 5.8, "vconcat": [
  {"width": 94.6, "height": 168.4, "data": {"name": "d"}, "transform": [{"filter": "datum.r == 'F' && datum.t == 'SC'"}], "resolve": {"axis": {"x": "independent"}}, "layer": [
   {"data": {"values": [{}]}, "mark": {"type": "rule", "color": "#A6A6A6", "strokeDash": [4, 3], "strokeWidth": 1}, "encoding": {"x": {"datum": 0, "type": "quantitative", "scale": {"domain": [-0.88, 1.08], "nice": false, "zero": false}, "axis": {"orient": "bottom", "values": [-0.75, -0.25, 0.25, 0.75], "labels": false, "ticks": false, "domain": false, "title": null, "grid": true, "gridColor": "#F3F3F3", "gridWidth": 0.7}}}},
   {"mark": {"type": "point", "filled": true, "size": 38, "opacity": 0.85}, "encoding": {
     "x": {"field": "li", "type": "quantitative", "scale": {"domain": [-0.88, 1.08], "nice": false, "zero": false}, "axis": {"orient": "bottom", "values": [-0.5, 0, 0.5, 1], "labels": false, "ticks": false, "domain": false, "title": null, "grid": true, "gridColor": "#EBEBEB"}},
     "y": {"field": "s", "type": "nominal", "scale": {"type": "band", "domain": ["Van Oers et al (2010), [N=13]", "Stippich et al (2003), [N=14]", "Sanjuan et al (2010), [N=22]", "Partovi et al (2012b), [N=14]", "Partovi et al (2012a), [N=14]", "Niskanen et al (2012), [N=20]", "Clements et al (2006), [N=15]", "*Vikingstad et al (2000), [N=23]", "*Brennan et al (2007), [N=7]", "**Gaillard et al (2002), [N=22]"], "paddingInner": 0, "paddingOuter": 0.1}, "axis": {"title": null, "domain": false, "grid": true, "gridColor": "#EBEBEB", "bandPosition": 0.5, "labels": false, "ticks": false}},
     "yOffset": {"field": "slot", "type": "nominal", "scale": {"domain": ["up", "mid", "down"], "paddingInner": 0, "paddingOuter": 0.5}},
     "color": {"field": "b", "type": "nominal", "scale": {"domain": ["Active", "Passive"], "range": ["#F8766D", "#00BFC4"]}, "legend": {"symbolOpacity": 1}},
     "shape": {"field": "m", "type": "nominal", "scale": {"domain": ["Voxel count", "LI ratio", "Flip method"], "range": ["circle", "diamond", "triangle-down"]}, "legend": {"symbolOpacity": 1, "symbolFillColor": "transparent", "symbolStrokeColor": "black", "symbolStrokeWidth": 1}}}},
   {"mark": {"type": "rule", "color": "black", "strokeWidth": 1.1}, "encoding": {"x": {"field": "lo", "type": "quantitative", "scale": {"domain": [-0.88, 1.08], "nice": false, "zero": false}, "axis": null}, "x2": {"field": "hi"}, "y": {"field": "s", "type": "nominal", "scale": {"type": "band", "domain": ["Van Oers et al (2010), [N=13]", "Stippich et al (2003), [N=14]", "Sanjuan et al (2010), [N=22]", "Partovi et al (2012b), [N=14]", "Partovi et al (2012a), [N=14]", "Niskanen et al (2012), [N=20]", "Clements et al (2006), [N=15]", "*Vikingstad et al (2000), [N=23]", "*Brennan et al (2007), [N=7]", "**Gaillard et al (2002), [N=22]"], "paddingInner": 0, "paddingOuter": 0.1}}, "yOffset": {"field": "slot", "type": "nominal", "scale": {"domain": ["up", "mid", "down"], "paddingInner": 0, "paddingOuter": 0.5}}}}
  ]},
  {"width": 94.6, "height": 168.4, "data": {"name": "d"}, "transform": [{"filter": "datum.r == 'T' && datum.t == 'SC'"}], "resolve": {"axis": {"x": "independent"}}, "layer": [
   {"data": {"values": [{}]}, "mark": {"type": "rule", "color": "#A6A6A6", "strokeDash": [4, 3], "strokeWidth": 1}, "encoding": {"x": {"datum": 0, "type": "quantitative", "scale": {"domain": [-0.88, 1.08], "nice": false, "zero": false}, "axis": {"orient": "bottom", "values": [-0.75, -0.25, 0.25, 0.75], "labels": false, "ticks": false, "domain": false, "title": null, "grid": true, "gridColor": "#F3F3F3", "gridWidth": 0.7}}}},
   {"mark": {"type": "point", "filled": true, "size": 38, "opacity": 0.85}, "encoding": {
     "x": {"field": "li", "type": "quantitative", "scale": {"domain": [-0.88, 1.08], "nice": false, "zero": false}, "axis": {"orient": "bottom", "values": [-0.5, 0, 0.5, 1], "labels": false, "ticks": false, "domain": false, "title": null, "grid": true, "gridColor": "#EBEBEB"}},
     "y": {"field": "s", "type": "nominal", "scale": {"type": "band", "domain": ["Vikingstad et al (2000), [N=23]", "Van Oers et al (2010), [N=13]", "Stippich et al (2003), [N=14]", "Sanjuan et al (2010), [N=22]", "Partovi et al (2012b), [N=14]", "Partovi et al (2012a), [N=14]", "Niskanen et al (2012), [N=20]", "Clements et al (2006), [N=15]", "*Brennan et al (2007), [N=7]", "**Gaillard et al (2002), [N=22]"], "paddingInner": 0, "paddingOuter": 0.1}, "axis": {"title": null, "domain": false, "grid": true, "gridColor": "#EBEBEB", "bandPosition": 0.5, "labels": false, "ticks": false}},
     "yOffset": {"field": "slot", "type": "nominal", "scale": {"domain": ["up", "mid", "down"], "paddingInner": 0, "paddingOuter": 0.5}},
     "color": {"field": "b", "type": "nominal", "scale": {"domain": ["Active", "Passive"], "range": ["#F8766D", "#00BFC4"]}, "legend": {"symbolOpacity": 1}},
     "shape": {"field": "m", "type": "nominal", "scale": {"domain": ["Voxel count", "LI ratio", "Flip method"], "range": ["circle", "diamond", "triangle-down"]}, "legend": {"symbolOpacity": 1, "symbolFillColor": "transparent", "symbolStrokeColor": "black", "symbolStrokeWidth": 1}}}},
   {"mark": {"type": "rule", "color": "black", "strokeWidth": 1.1}, "encoding": {"x": {"field": "lo", "type": "quantitative", "scale": {"domain": [-0.88, 1.08], "nice": false, "zero": false}, "axis": null}, "x2": {"field": "hi"}, "y": {"field": "s", "type": "nominal", "scale": {"type": "band", "domain": ["Vikingstad et al (2000), [N=23]", "Van Oers et al (2010), [N=13]", "Stippich et al (2003), [N=14]", "Sanjuan et al (2010), [N=22]", "Partovi et al (2012b), [N=14]", "Partovi et al (2012a), [N=14]", "Niskanen et al (2012), [N=20]", "Clements et al (2006), [N=15]", "*Brennan et al (2007), [N=7]", "**Gaillard et al (2002), [N=22]"], "paddingInner": 0, "paddingOuter": 0.1}}, "yOffset": {"field": "slot", "type": "nominal", "scale": {"domain": ["up", "mid", "down"], "paddingInner": 0, "paddingOuter": 0.5}}}}
  ]},
  {"width": 94.6, "height": 52.83, "data": {"name": "d"}, "transform": [{"filter": "datum.r == 'C' && datum.t == 'SC'"}], "resolve": {"axis": {"x": "independent"}}, "layer": [
   {"data": {"values": [{}]}, "mark": {"type": "rule", "color": "#A6A6A6", "strokeDash": [4, 3], "strokeWidth": 1}, "encoding": {"x": {"datum": 0, "type": "quantitative", "scale": {"domain": [-0.88, 1.08], "nice": false, "zero": false}, "axis": {"orient": "bottom", "values": [-0.75, -0.25, 0.25, 0.75], "labels": false, "ticks": false, "domain": false, "title": null, "grid": true, "gridColor": "#F3F3F3", "gridWidth": 0.7}}}},
   {"mark": {"type": "point", "filled": true, "size": 38, "opacity": 0.85}, "encoding": {
     "x": {"field": "li", "type": "quantitative", "scale": {"domain": [-0.88, 1.08], "nice": false, "zero": false}, "axis": {"orient": "bottom", "values": [-0.5, 0, 0.5, 1], "labels": false, "ticks": false, "domain": false, "title": null, "grid": true, "gridColor": "#EBEBEB"}},
     "y": {"field": "s", "type": "nominal", "scale": {"type": "band", "domain": ["Van Oers et al (2010), [N=13]", "Niskanen et al (2012), [N=20]", "Baciu et al (2005), [N=10]"], "paddingInner": 0, "paddingOuter": 0.1}, "axis": {"title": null, "domain": false, "grid": true, "gridColor": "#EBEBEB", "bandPosition": 0.5, "labels": false, "ticks": false}},
     "yOffset": {"field": "slot", "type": "nominal", "scale": {"domain": ["up", "mid", "down"], "paddingInner": 0, "paddingOuter": 0.5}},
     "color": {"field": "b", "type": "nominal", "scale": {"domain": ["Active", "Passive"], "range": ["#F8766D", "#00BFC4"]}, "legend": {"symbolOpacity": 1}},
     "shape": {"field": "m", "type": "nominal", "scale": {"domain": ["Voxel count", "LI ratio", "Flip method"], "range": ["circle", "diamond", "triangle-down"]}, "legend": {"symbolOpacity": 1, "symbolFillColor": "transparent", "symbolStrokeColor": "black", "symbolStrokeWidth": 1}}}},
   {"mark": {"type": "rule", "color": "black", "strokeWidth": 1.1}, "encoding": {"x": {"field": "lo", "type": "quantitative", "scale": {"domain": [-0.88, 1.08], "nice": false, "zero": false}, "axis": null}, "x2": {"field": "hi"}, "y": {"field": "s", "type": "nominal", "scale": {"type": "band", "domain": ["Van Oers et al (2010), [N=13]", "Niskanen et al (2012), [N=20]", "Baciu et al (2005), [N=10]"], "paddingInner": 0, "paddingOuter": 0.1}}, "yOffset": {"field": "slot", "type": "nominal", "scale": {"domain": ["up", "mid", "down"], "paddingInner": 0, "paddingOuter": 0.5}}}}
  ]},
  {"width": 94.6, "height": 69.34, "data": {"name": "d"}, "transform": [{"filter": "datum.r == 'G' && datum.t == 'SC'"}], "resolve": {"axis": {"x": "independent"}}, "layer": [
   {"data": {"values": [{}]}, "mark": {"type": "rule", "color": "#A6A6A6", "strokeDash": [4, 3], "strokeWidth": 1}, "encoding": {"x": {"datum": 0, "type": "quantitative", "scale": {"domain": [-0.88, 1.08], "nice": false, "zero": false}, "axis": {"orient": "bottom", "values": [-0.75, -0.25, 0.25, 0.75], "labels": false, "ticks": false, "domain": false, "title": null, "grid": true, "gridColor": "#F3F3F3", "gridWidth": 0.7}}}},
   {"mark": {"type": "point", "filled": true, "size": 38, "opacity": 0.85}, "encoding": {
     "x": {"field": "li", "type": "quantitative", "scale": {"domain": [-0.88, 1.08], "nice": false, "zero": false}, "axis": {"orient": "bottom", "values": [-0.5, 0, 0.5, 1], "domain": false, "title": null, "grid": true, "gridColor": "#EBEBEB", "labelExpr": "datum.value < 0 ? '-0.5' : format(datum.value, '.1f')", "labelAngle": -90, "labelFontSize": 8.8, "labelColor": "#4D4D4D", "labelFlush": false, "labelOverlap": false, "labelPadding": 2, "tickSize": 3, "tickColor": "#333333"}},
     "y": {"field": "s", "type": "nominal", "scale": {"type": "band", "domain": ["Vassal et al (2016), [N=20]", "Seghier et al (2004), [N=26]", "Kennan et al (2002), [N=6]", "*Deblaere et al (2002), [N=9]"], "paddingInner": 0, "paddingOuter": 0.1}, "axis": {"title": null, "domain": false, "grid": true, "gridColor": "#EBEBEB", "bandPosition": 0.5, "labels": false, "ticks": false}},
     "yOffset": {"field": "slot", "type": "nominal", "scale": {"domain": ["up", "mid", "down"], "paddingInner": 0, "paddingOuter": 0.5}},
     "color": {"field": "b", "type": "nominal", "scale": {"domain": ["Active", "Passive"], "range": ["#F8766D", "#00BFC4"]}, "legend": {"symbolOpacity": 1}},
     "shape": {"field": "m", "type": "nominal", "scale": {"domain": ["Voxel count", "LI ratio", "Flip method"], "range": ["circle", "diamond", "triangle-down"]}, "legend": {"symbolOpacity": 1, "symbolFillColor": "transparent", "symbolStrokeColor": "black", "symbolStrokeWidth": 1}}}},
   {"mark": {"type": "rule", "color": "black", "strokeWidth": 1.1}, "encoding": {"x": {"field": "lo", "type": "quantitative", "scale": {"domain": [-0.88, 1.08], "nice": false, "zero": false}, "axis": null}, "x2": {"field": "hi"}, "y": {"field": "s", "type": "nominal", "scale": {"type": "band", "domain": ["Vassal et al (2016), [N=20]", "Seghier et al (2004), [N=26]", "Kennan et al (2002), [N=6]", "*Deblaere et al (2002), [N=9]"], "paddingInner": 0, "paddingOuter": 0.1}}, "yOffset": {"field": "slot", "type": "nominal", "scale": {"domain": ["up", "mid", "down"], "paddingInner": 0, "paddingOuter": 0.5}}}}
  ]}
 ]}
]},
{"spacing": -1.7, "hconcat": [
{"spacing": 0, "vconcat": [
 {"width": 94.6, "height": 31, "view": {"fill": "#BFBFBF", "stroke": "#333333"}, "data": {"values": [{"label": "Sentence\ngeneration"}]}, "mark": {"type": "text", "lineBreak": "\n", "fontSize": 10.5, "fontWeight": "bold", "color": "#1A1A1A", "lineHeight": 10.5, "dy": -5.25}, "encoding": {"text": {"field": "label"}}},
 {"spacing": 5.8, "vconcat": [
  {"width": 94.6, "height": 168.4, "data": {"name": "d"}, "transform": [{"filter": "datum.r == 'F' && datum.t == 'SG'"}], "resolve": {"axis": {"x": "independent"}}, "layer": [
   {"data": {"values": [{}]}, "mark": {"type": "rule", "color": "#A6A6A6", "strokeDash": [4, 3], "strokeWidth": 1}, "encoding": {"x": {"datum": 0, "type": "quantitative", "scale": {"domain": [-0.88, 1.08], "nice": false, "zero": false}, "axis": {"orient": "bottom", "values": [-0.75, -0.25, 0.25, 0.75], "labels": false, "ticks": false, "domain": false, "title": null, "grid": true, "gridColor": "#F3F3F3", "gridWidth": 0.7}}}},
   {"mark": {"type": "point", "filled": true, "size": 38, "opacity": 0.85}, "encoding": {
     "x": {"field": "li", "type": "quantitative", "scale": {"domain": [-0.88, 1.08], "nice": false, "zero": false}, "axis": {"orient": "bottom", "values": [-0.5, 0, 0.5, 1], "labels": false, "ticks": false, "domain": false, "title": null, "grid": true, "gridColor": "#EBEBEB"}},
     "y": {"field": "s", "type": "nominal", "scale": {"type": "band", "domain": ["Van Oers et al (2010), [N=13]", "Stippich et al (2003), [N=14]", "Sanjuan et al (2010), [N=22]", "Partovi et al (2012b), [N=14]", "Partovi et al (2012a), [N=14]", "Niskanen et al (2012), [N=20]", "Clements et al (2006), [N=15]", "*Vikingstad et al (2000), [N=23]", "*Brennan et al (2007), [N=7]", "**Gaillard et al (2002), [N=22]"], "paddingInner": 0, "paddingOuter": 0.1}, "axis": {"title": null, "domain": false, "grid": true, "gridColor": "#EBEBEB", "bandPosition": 0.5, "labels": false, "ticks": false}},
     "yOffset": {"field": "slot", "type": "nominal", "scale": {"domain": ["up", "mid", "down"], "paddingInner": 0, "paddingOuter": 0.5}},
     "color": {"field": "b", "type": "nominal", "scale": {"domain": ["Active", "Passive"], "range": ["#F8766D", "#00BFC4"]}, "legend": {"symbolOpacity": 1}},
     "shape": {"field": "m", "type": "nominal", "scale": {"domain": ["Voxel count", "LI ratio", "Flip method"], "range": ["circle", "diamond", "triangle-down"]}, "legend": {"symbolOpacity": 1, "symbolFillColor": "transparent", "symbolStrokeColor": "black", "symbolStrokeWidth": 1}}}},
   {"mark": {"type": "rule", "color": "black", "strokeWidth": 1.1}, "encoding": {"x": {"field": "lo", "type": "quantitative", "scale": {"domain": [-0.88, 1.08], "nice": false, "zero": false}, "axis": null}, "x2": {"field": "hi"}, "y": {"field": "s", "type": "nominal", "scale": {"type": "band", "domain": ["Van Oers et al (2010), [N=13]", "Stippich et al (2003), [N=14]", "Sanjuan et al (2010), [N=22]", "Partovi et al (2012b), [N=14]", "Partovi et al (2012a), [N=14]", "Niskanen et al (2012), [N=20]", "Clements et al (2006), [N=15]", "*Vikingstad et al (2000), [N=23]", "*Brennan et al (2007), [N=7]", "**Gaillard et al (2002), [N=22]"], "paddingInner": 0, "paddingOuter": 0.1}}, "yOffset": {"field": "slot", "type": "nominal", "scale": {"domain": ["up", "mid", "down"], "paddingInner": 0, "paddingOuter": 0.5}}}}
  ]},
  {"width": 94.6, "height": 168.4, "data": {"name": "d"}, "transform": [{"filter": "datum.r == 'T' && datum.t == 'SG'"}], "resolve": {"axis": {"x": "independent"}}, "layer": [
   {"data": {"values": [{}]}, "mark": {"type": "rule", "color": "#A6A6A6", "strokeDash": [4, 3], "strokeWidth": 1}, "encoding": {"x": {"datum": 0, "type": "quantitative", "scale": {"domain": [-0.88, 1.08], "nice": false, "zero": false}, "axis": {"orient": "bottom", "values": [-0.75, -0.25, 0.25, 0.75], "labels": false, "ticks": false, "domain": false, "title": null, "grid": true, "gridColor": "#F3F3F3", "gridWidth": 0.7}}}},
   {"mark": {"type": "point", "filled": true, "size": 38, "opacity": 0.85}, "encoding": {
     "x": {"field": "li", "type": "quantitative", "scale": {"domain": [-0.88, 1.08], "nice": false, "zero": false}, "axis": {"orient": "bottom", "values": [-0.5, 0, 0.5, 1], "labels": false, "ticks": false, "domain": false, "title": null, "grid": true, "gridColor": "#EBEBEB"}},
     "y": {"field": "s", "type": "nominal", "scale": {"type": "band", "domain": ["Vikingstad et al (2000), [N=23]", "Van Oers et al (2010), [N=13]", "Stippich et al (2003), [N=14]", "Sanjuan et al (2010), [N=22]", "Partovi et al (2012b), [N=14]", "Partovi et al (2012a), [N=14]", "Niskanen et al (2012), [N=20]", "Clements et al (2006), [N=15]", "*Brennan et al (2007), [N=7]", "**Gaillard et al (2002), [N=22]"], "paddingInner": 0, "paddingOuter": 0.1}, "axis": {"title": null, "domain": false, "grid": true, "gridColor": "#EBEBEB", "bandPosition": 0.5, "labels": false, "ticks": false}},
     "yOffset": {"field": "slot", "type": "nominal", "scale": {"domain": ["up", "mid", "down"], "paddingInner": 0, "paddingOuter": 0.5}},
     "color": {"field": "b", "type": "nominal", "scale": {"domain": ["Active", "Passive"], "range": ["#F8766D", "#00BFC4"]}, "legend": {"symbolOpacity": 1}},
     "shape": {"field": "m", "type": "nominal", "scale": {"domain": ["Voxel count", "LI ratio", "Flip method"], "range": ["circle", "diamond", "triangle-down"]}, "legend": {"symbolOpacity": 1, "symbolFillColor": "transparent", "symbolStrokeColor": "black", "symbolStrokeWidth": 1}}}},
   {"mark": {"type": "rule", "color": "black", "strokeWidth": 1.1}, "encoding": {"x": {"field": "lo", "type": "quantitative", "scale": {"domain": [-0.88, 1.08], "nice": false, "zero": false}, "axis": null}, "x2": {"field": "hi"}, "y": {"field": "s", "type": "nominal", "scale": {"type": "band", "domain": ["Vikingstad et al (2000), [N=23]", "Van Oers et al (2010), [N=13]", "Stippich et al (2003), [N=14]", "Sanjuan et al (2010), [N=22]", "Partovi et al (2012b), [N=14]", "Partovi et al (2012a), [N=14]", "Niskanen et al (2012), [N=20]", "Clements et al (2006), [N=15]", "*Brennan et al (2007), [N=7]", "**Gaillard et al (2002), [N=22]"], "paddingInner": 0, "paddingOuter": 0.1}}, "yOffset": {"field": "slot", "type": "nominal", "scale": {"domain": ["up", "mid", "down"], "paddingInner": 0, "paddingOuter": 0.5}}}}
  ]},
  {"width": 94.6, "height": 52.83, "data": {"name": "d"}, "transform": [{"filter": "datum.r == 'C' && datum.t == 'SG'"}], "resolve": {"axis": {"x": "independent"}}, "layer": [
   {"data": {"values": [{}]}, "mark": {"type": "rule", "color": "#A6A6A6", "strokeDash": [4, 3], "strokeWidth": 1}, "encoding": {"x": {"datum": 0, "type": "quantitative", "scale": {"domain": [-0.88, 1.08], "nice": false, "zero": false}, "axis": {"orient": "bottom", "values": [-0.75, -0.25, 0.25, 0.75], "labels": false, "ticks": false, "domain": false, "title": null, "grid": true, "gridColor": "#F3F3F3", "gridWidth": 0.7}}}},
   {"mark": {"type": "point", "filled": true, "size": 38, "opacity": 0.85}, "encoding": {
     "x": {"field": "li", "type": "quantitative", "scale": {"domain": [-0.88, 1.08], "nice": false, "zero": false}, "axis": {"orient": "bottom", "values": [-0.5, 0, 0.5, 1], "labels": false, "ticks": false, "domain": false, "title": null, "grid": true, "gridColor": "#EBEBEB"}},
     "y": {"field": "s", "type": "nominal", "scale": {"type": "band", "domain": ["Van Oers et al (2010), [N=13]", "Niskanen et al (2012), [N=20]", "Baciu et al (2005), [N=10]"], "paddingInner": 0, "paddingOuter": 0.1}, "axis": {"title": null, "domain": false, "grid": true, "gridColor": "#EBEBEB", "bandPosition": 0.5, "labels": false, "ticks": false}},
     "yOffset": {"field": "slot", "type": "nominal", "scale": {"domain": ["up", "mid", "down"], "paddingInner": 0, "paddingOuter": 0.5}},
     "color": {"field": "b", "type": "nominal", "scale": {"domain": ["Active", "Passive"], "range": ["#F8766D", "#00BFC4"]}, "legend": {"symbolOpacity": 1}},
     "shape": {"field": "m", "type": "nominal", "scale": {"domain": ["Voxel count", "LI ratio", "Flip method"], "range": ["circle", "diamond", "triangle-down"]}, "legend": {"symbolOpacity": 1, "symbolFillColor": "transparent", "symbolStrokeColor": "black", "symbolStrokeWidth": 1}}}},
   {"mark": {"type": "rule", "color": "black", "strokeWidth": 1.1}, "encoding": {"x": {"field": "lo", "type": "quantitative", "scale": {"domain": [-0.88, 1.08], "nice": false, "zero": false}, "axis": null}, "x2": {"field": "hi"}, "y": {"field": "s", "type": "nominal", "scale": {"type": "band", "domain": ["Van Oers et al (2010), [N=13]", "Niskanen et al (2012), [N=20]", "Baciu et al (2005), [N=10]"], "paddingInner": 0, "paddingOuter": 0.1}}, "yOffset": {"field": "slot", "type": "nominal", "scale": {"domain": ["up", "mid", "down"], "paddingInner": 0, "paddingOuter": 0.5}}}}
  ]},
  {"width": 94.6, "height": 69.34, "data": {"name": "d"}, "transform": [{"filter": "datum.r == 'G' && datum.t == 'SG'"}], "resolve": {"axis": {"x": "independent"}}, "layer": [
   {"data": {"values": [{}]}, "mark": {"type": "rule", "color": "#A6A6A6", "strokeDash": [4, 3], "strokeWidth": 1}, "encoding": {"x": {"datum": 0, "type": "quantitative", "scale": {"domain": [-0.88, 1.08], "nice": false, "zero": false}, "axis": {"orient": "bottom", "values": [-0.75, -0.25, 0.25, 0.75], "labels": false, "ticks": false, "domain": false, "title": null, "grid": true, "gridColor": "#F3F3F3", "gridWidth": 0.7}}}},
   {"mark": {"type": "point", "filled": true, "size": 38, "opacity": 0.85}, "encoding": {
     "x": {"field": "li", "type": "quantitative", "scale": {"domain": [-0.88, 1.08], "nice": false, "zero": false}, "axis": {"orient": "bottom", "values": [-0.5, 0, 0.5, 1], "domain": false, "title": null, "grid": true, "gridColor": "#EBEBEB", "labelExpr": "datum.value < 0 ? '-0.5' : format(datum.value, '.1f')", "labelAngle": -90, "labelFontSize": 8.8, "labelColor": "#4D4D4D", "labelFlush": false, "labelOverlap": false, "labelPadding": 2, "tickSize": 3, "tickColor": "#333333"}},
     "y": {"field": "s", "type": "nominal", "scale": {"type": "band", "domain": ["Vassal et al (2016), [N=20]", "Seghier et al (2004), [N=26]", "Kennan et al (2002), [N=6]", "*Deblaere et al (2002), [N=9]"], "paddingInner": 0, "paddingOuter": 0.1}, "axis": {"title": null, "domain": false, "grid": true, "gridColor": "#EBEBEB", "bandPosition": 0.5, "labels": false, "ticks": false}},
     "yOffset": {"field": "slot", "type": "nominal", "scale": {"domain": ["up", "mid", "down"], "paddingInner": 0, "paddingOuter": 0.5}},
     "color": {"field": "b", "type": "nominal", "scale": {"domain": ["Active", "Passive"], "range": ["#F8766D", "#00BFC4"]}, "legend": {"symbolOpacity": 1}},
     "shape": {"field": "m", "type": "nominal", "scale": {"domain": ["Voxel count", "LI ratio", "Flip method"], "range": ["circle", "diamond", "triangle-down"]}, "legend": {"symbolOpacity": 1, "symbolFillColor": "transparent", "symbolStrokeColor": "black", "symbolStrokeWidth": 1}}}},
   {"mark": {"type": "rule", "color": "black", "strokeWidth": 1.1}, "encoding": {"x": {"field": "lo", "type": "quantitative", "scale": {"domain": [-0.88, 1.08], "nice": false, "zero": false}, "axis": null}, "x2": {"field": "hi"}, "y": {"field": "s", "type": "nominal", "scale": {"type": "band", "domain": ["Vassal et al (2016), [N=20]", "Seghier et al (2004), [N=26]", "Kennan et al (2002), [N=6]", "*Deblaere et al (2002), [N=9]"], "paddingInner": 0, "paddingOuter": 0.1}}, "yOffset": {"field": "slot", "type": "nominal", "scale": {"domain": ["up", "mid", "down"], "paddingInner": 0, "paddingOuter": 0.5}}}}
  ]}
 ]}
]},
{"spacing": 0, "vconcat": [
 {"width": 96.3, "height": 31, "view": {"fill": "transparent", "stroke": null}, "data": {"values": [{}]}, "mark": {"type": "point", "opacity": 0}, "encoding": {}},
 {"spacing": 5.8, "vconcat": [
  {"width": 96.3, "height": 168.4, "view": {"fill": "#BFBFBF", "stroke": "#333333"}, "data": {"values": [{"label": "Frontal"}]}, "mark": {"type": "text", "lineBreak": "\n", "fontSize": 10.5, "fontWeight": "bold", "color": "#1A1A1A", "lineHeight": 11}, "encoding": {"text": {"field": "label"}}},
  {"width": 96.3, "height": 168.4, "view": {"fill": "#BFBFBF", "stroke": "#333333"}, "data": {"values": [{"label": "Temporoparietal"}]}, "mark": {"type": "text", "lineBreak": "\n", "fontSize": 10.5, "fontWeight": "bold", "color": "#1A1A1A", "lineHeight": 11}, "encoding": {"text": {"field": "label"}}},
  {"width": 96.3, "height": 52.83, "view": {"fill": "#BFBFBF", "stroke": "#333333"}, "data": {"values": [{"label": "Combined\nfrontal\nand\ntemporoparietal"}]}, "mark": {"type": "text", "lineBreak": "\n", "fontSize": 10.5, "fontWeight": "bold", "color": "#1A1A1A", "lineHeight": 11, "dy": -16.5}, "encoding": {"text": {"field": "label"}}},
  {"width": 96.3, "height": 69.34, "view": {"fill": "#BFBFBF", "stroke": "#333333"}, "data": {"values": [{"label": "Global"}]}, "mark": {"type": "text", "lineBreak": "\n", "fontSize": 10.5, "fontWeight": "bold", "color": "#1A1A1A", "lineHeight": 11}, "encoding": {"text": {"field": "label"}}}
 ]}
]}
]}
]
}
